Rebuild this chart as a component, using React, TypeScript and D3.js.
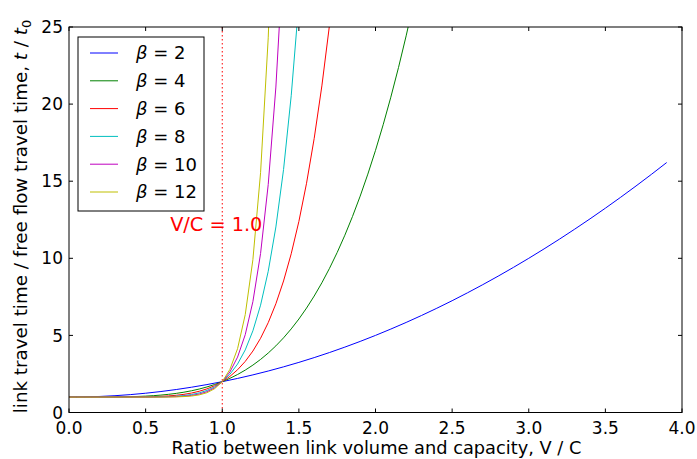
import React from "react";
import * as d3 from "d3";

// x grid (V/C) for the steep curves, step 0.05
const xFine = [
  0, 0.05, 0.1, 0.15, 0.2, 0.25, 0.3, 0.35, 0.4, 0.45,
  0.5, 0.55, 0.6, 0.65, 0.7, 0.75, 0.8, 0.85, 0.9, 0.95,
  1.0, 1.05, 1.1, 1.15, 1.2, 1.25, 1.3, 1.35, 1.4, 1.45,
  1.5, 1.55, 1.6, 1.65, 1.7, 1.75, 1.8, 1.85, 1.9, 1.95,
  2.0, 2.05, 2.1, 2.15, 2.2, 2.25,
];
// x grid for beta = 2, step 0.1
const xCoarse = [
  0, 0.1, 0.2, 0.3, 0.4, 0.5, 0.6, 0.7, 0.8, 0.9,
  1.0, 1.1, 1.2, 1.3, 1.4, 1.5, 1.6, 1.7, 1.8, 1.9,
  2.0, 2.1, 2.2, 2.3, 2.4, 2.5, 2.6, 2.7, 2.8, 2.9,
  3.0, 3.1, 3.2, 3.3, 3.4, 3.5, 3.6, 3.7, 3.8, 3.9,
];

const beta2 = [
  1, 1.01, 1.04, 1.09, 1.16, 1.25, 1.36, 1.49, 1.64, 1.81,
  2, 2.21, 2.44, 2.69, 2.96, 3.25, 3.56, 3.89, 4.24, 4.61,
  5, 5.41, 5.84, 6.29, 6.76, 7.25, 7.76, 8.29, 8.84, 9.41,
  10, 10.61, 11.24, 11.89, 12.56, 13.25, 13.96, 14.69, 15.44, 16.21,
];
const beta4 = [
  1, 1.0, 1.0001, 1.0005, 1.0016, 1.0039, 1.0081, 1.015, 1.0256, 1.041,
  1.0625, 1.0915, 1.1296, 1.1785, 1.2401, 1.3164, 1.4096, 1.522, 1.6561, 1.8145,
  2, 2.2155, 2.4641, 2.749, 3.0736, 3.4414, 3.8561, 4.3215, 4.8416, 5.4205,
  6.0625, 6.772, 7.5536, 8.412, 9.3521, 10.3789, 11.4976, 12.7135, 14.0321, 15.459,
  17, 18.661, 20.4481, 22.3675, 24.4256, 26.6289,
];
const beta6 = [
  1, 1, 1, 1, 1.0001, 1.0002, 1.0007, 1.0018, 1.0041, 1.0083,
  1.0156, 1.0277, 1.0467, 1.0754, 1.1176, 1.178, 1.2621, 1.3771, 1.5314, 1.7351,
  2, 2.3401, 2.7716, 3.3131, 3.986, 4.8147, 5.8268, 7.0534, 8.5295, 10.2941,
  12.3906, 14.8672, 17.7772, 21.1792, 25.1376, 29.7229,
];
const beta8 = [
  1, 1, 1, 1, 1, 1, 1.0001, 1.0002, 1.0007, 1.0017,
  1.0039, 1.0084, 1.0168, 1.0319, 1.0576, 1.1001, 1.1678, 1.2725, 1.4305, 1.6634,
  2, 2.4775, 3.1436, 4.059, 5.2998, 6.9605, 9.1573, 12.0324, 15.7579, 20.5408,
  26.6289,
];
const beta10 = [
  1, 1, 1, 1, 1, 1, 1, 1, 1.0001, 1.0003,
  1.001, 1.0025, 1.006, 1.0135, 1.0282, 1.0563, 1.1074, 1.1969, 1.3487, 1.5987,
  2, 2.6289, 3.5937, 5.0455, 7.1917, 10.3132, 14.7858, 21.1066, 29.9255,
];
const beta12 = [
  1, 1, 1, 1, 1, 1, 1, 1, 1, 1.0001,
  1.0002, 1.0008, 1.0022, 1.0057, 1.0138, 1.0317, 1.0687, 1.1422, 1.2824, 1.5404,
  2, 2.7959, 4.1384, 6.3502, 9.9161, 15.5519, 24.2981, 37.644,
];

const seriesLabels = ["2", "4", "6", "8", "10", "12"];
const seriesValues = [beta2, beta4, beta6, beta8, beta10, beta12];
const seriesX = [xCoarse, xFine, xFine, xFine, xFine, xFine];
const seriesColors = ["#0000ff", "#008000", "#ff0000", "#00bfbf", "#bf00bf", "#bfbf00"];

const xTicks = [0, 0.5, 1.0, 1.5, 2.0, 2.5, 3.0, 3.5, 4.0];
const yTicks = [0, 5, 10, 15, 20, 25];
const capacityLine = 1.0;
const annotation = { text: "V/C = 1.0", x: 0.66, y: 11.8 };

const W = 697;
const H = 459;
const L = 69;
const R = 682;
const T = 27;
const B = 412.5;
const FONT = "'DejaVu Sans', sans-serif";
const FS = 17;
const LFS = 17.8;

export default function App() {
  const x = d3.scaleLinear().domain([0, 4]).range([L, R]);
  const y = d3.scaleLinear().domain([0, 25]).range([B, T]);

  const lines = seriesValues.map((vals, i) => {
    const xs = seriesX[i];
    const pts: [number, number][] = vals.map((v, j) => [xs[j], v]);
    return d3
      .line<[number, number]>()
      .x((d) => x(d[0]))
      .y((d) => y(d[1]))(pts) as string;
  });

  const legX = 78;
  const legY = 37;
  const legW = 126;
  const legH = 174;
  const rowH = 27.8;

  return (
    <svg width={W} height={H} style={{ position: "absolute", left: 0, top: 0, background: "#fff" }}>
      <defs>
        <clipPath id="plot">
          <rect x={L} y={T} width={R - L} height={B - T} />
        </clipPath>
      </defs>
      <rect x={0} y={0} width={W} height={H} fill="#fff" />

      <g clipPath="url(#plot)">
        {lines.map((d, i) => (
          <path key={i} d={d} fill="none" stroke={seriesColors[i]} strokeWidth={1} />
        ))}
        <line
          x1={x(capacityLine)}
          x2={x(capacityLine)}
          y1={T}
          y2={B}
          stroke="#ff0000"
          strokeWidth={1}
          strokeDasharray="1.5,2.5"
        />
      </g>

      <text
        x={x(annotation.x)}
        y={y(annotation.y)}
        fill="#ff0000"
        fontFamily={FONT}
        fontSize={19.3}
      >
        {annotation.text}
      </text>

      {/* ticks */}
      {xTicks.map((t) => (
        <g key={"x" + t}>
          <line x1={x(t)} x2={x(t)} y1={B} y2={B - 4} stroke="#000" strokeWidth={1} />
          <line x1={x(t)} x2={x(t)} y1={T} y2={T + 4} stroke="#000" strokeWidth={1} />
          <text
            x={x(t)}
            y={B + 21.5}
            textAnchor="middle"
            fontFamily={FONT}
            fontSize={FS}
            fill="#000"
          >
            {t.toFixed(1)}
          </text>
        </g>
      ))}
      {yTicks.map((t) => (
        <g key={"y" + t}>
          <line x1={L} x2={L + 4} y1={y(t)} y2={y(t)} stroke="#000" strokeWidth={1} />
          <line x1={R} x2={R - 4} y1={y(t)} y2={y(t)} stroke="#000" strokeWidth={1} />
          <text
            x={L - 6}
            y={y(t)}
            dy="0.36em"
            textAnchor="end"
            fontFamily={FONT}
            fontSize={FS}
            fill="#000"
          >
            {t}
          </text>
        </g>
      ))}

      <rect x={L} y={T} width={R - L} height={B - T} fill="none" stroke="#000" strokeWidth={1} />

      {/* legend */}
      <rect x={legX} y={legY} width={legW} height={legH} fill="#fff" stroke="#000" strokeWidth={1} />
      {seriesLabels.map((lab, i) => {
        const cy = legY + 16 + i * rowH;
        return (
          <g key={"leg" + i}>
            <line x1={90} x2={118} y1={cy} y2={cy} stroke={seriesColors[i]} strokeWidth={1} />
            <text x={136} y={cy} dy="0.36em" fontFamily={FONT} fontSize={18} fill="#000">
              <tspan fontStyle="italic">β</tspan>
              {" = " + lab}
            </text>
          </g>
        );
      })}

      {/* axis labels */}
      <text
        x={(L + R) / 2 + 1}
        y={454}
        textAnchor="middle"
        fontFamily={FONT}
        fontSize={LFS}
        fill="#000"
      >
        Ratio between link volume and capacity, V / C
      </text>
      <text
        transform={`translate(27, 216.5) rotate(-90)`}
        textAnchor="middle"
        fontFamily={FONT}
        fontSize={18.3}
        fill="#000"
      >
        link travel time / free flow travel time, <tspan fontStyle="italic">t</tspan> / <tspan fontStyle="italic">t</tspan>
        <tspan fontSize={13} dy={4}>0</tspan>
      </text>
    </svg>
  );
}
